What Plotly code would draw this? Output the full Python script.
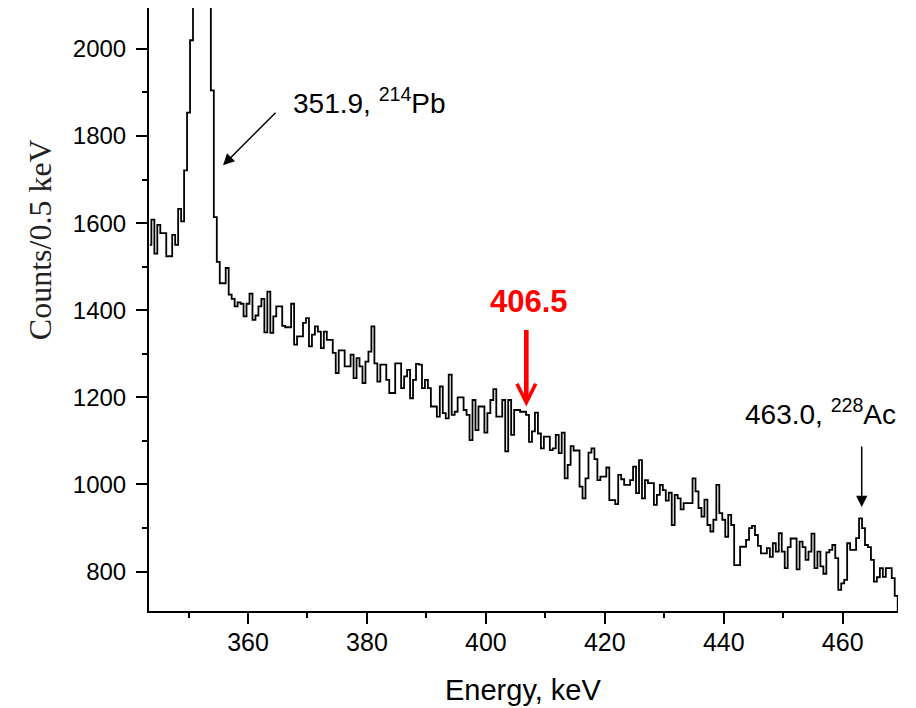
import plotly.graph_objects as go

# Bin centres are every 0.5 keV; each segment lists counts per 0.5 keV bin
bin_width = 0.5

seg1_start = 343.5
seg1_counts = [1550, 1608, 1530, 1596, 1577, 1577, 1524, 1524, 1573, 1550,
               1633, 1604, 1721, 1854, 2020, 2600, 3300, 3600, 3200, 2700,
               2300]

seg2_start = 354.0
seg2_counts = [1905, 1614, 1511, 1462, 1462, 1497, 1436, 1426, 1409, 1418,
               1415, 1386, 1415, 1438, 1378, 1388, 1409, 1426, 1349, 1443,
               1348, 1386, 1409, 1409, 1364, 1361, 1361, 1415, 1321, 1340,
               1340, 1371, 1382, 1317, 1344, 1363, 1351, 1313, 1351, 1332,
               1332, 1302, 1256, 1308, 1308, 1271, 1271, 1298, 1244, 1290,
               1271, 1233, 1282, 1305, 1363, 1278]

seg3_start = 382.0
seg3_counts = [1236, 1275, 1275, 1240, 1210, 1210, 1278, 1278, 1221, 1248,
               1263, 1198, 1240, 1277, 1275, 1221, 1240, 1221, 1179, 1179,
               1156, 1225, 1164, 1152, 1252, 1160, 1167, 1200, 1200, 1171,
               1160, 1102, 1194, 1125, 1179, 1179, 1119, 1164, 1194, 1219,
               1156, 1156, 1194, 1076, 1194, 1114, 1171, 1171, 1167, 1167,
               1160]

seg4_start = 407.5
seg4_counts = [1098, 1122, 1165, 1117, 1083, 1110, 1110, 1079, 1083, 1114,
               1072, 1119, 1014, 1045, 1088, 1078, 1078, 995, 968, 1014,
               1073, 1083, 1058, 1010, 1018, 1018, 1039, 964, 964, 955,
               1022, 1012, 999, 999, 1010, 1041, 980, 1056, 968, 1010,
               1003, 1003, 953, 976, 999, 987, 963, 981, 907, 976,
               968, 943, 957, 957, 957]

seg5_start = 435.0
seg5_counts = [1014, 984, 946, 926, 965, 907, 892, 919, 999, 934,
               919, 880, 930, 907, 815, 815, 857, 857, 873, 900,
               905, 884, 859, 842, 842, 854, 834, 865, 846, 888,
               846, 808, 856, 876, 876, 805, 869, 856, 827, 846,
               887, 808, 846, 812, 795, 844, 850, 861, 831, 758,
               773, 781, 865, 850, 850, 877, 922, 900, 861, 856,
               827, 777, 787, 808, 788, 808, 808, 785, 744, 600]

segments = [(seg1_start, seg1_counts), (seg2_start, seg2_counts),
            (seg3_start, seg3_counts), (seg4_start, seg4_counts),
            (seg5_start, seg5_counts)]

energy = []
counts = []
for start, vals in segments:
    for i, v in enumerate(vals):
        energy.append(start + i * bin_width)
        counts.append(v)

x_ticks = [360, 380, 400, 420, 440, 460]
y_ticks = [800, 1000, 1200, 1400, 1600, 1800, 2000]

fig = go.Figure()
fig.add_trace(go.Scatter(
    x=energy, y=counts, mode="lines", line_shape="hvh",
    line=dict(color="black", width=1.8), hoverinfo="x+y", showlegend=False))

sans = "Liberation Sans, Arial, sans-serif"
tick_font = dict(family=sans, size=25, color="black")

fig.update_layout(
    width=916, height=708,
    margin=dict(l=149, r=18, t=8, b=97),
    paper_bgcolor="white", plot_bgcolor="white",
    showlegend=False,
    xaxis=dict(range=[343.35, 469.3], showgrid=False, zeroline=False,
               showline=True, linecolor="black", linewidth=2, mirror=False,
               ticks="outside", ticklen=11, tickwidth=1.5, tickcolor="black",
               tickvals=x_ticks, ticktext=[str(v) for v in x_ticks],
               tickfont=tick_font, ticklabelstandoff=-3,
               minor=dict(dtick=10, tick0=350, ticks="outside", ticklen=5,
                          tickwidth=1.5, tickcolor="black", showgrid=False)),
    yaxis=dict(range=[709.5, 2094], showgrid=False, zeroline=False,
               showline=True, linecolor="black", linewidth=2, mirror=False,
               ticks="outside", ticklen=11, tickwidth=1.5, tickcolor="black",
               tickvals=y_ticks, ticktext=[str(v) for v in y_ticks],
               tickfont=dict(family=sans, size=24, color="black"),
               ticklabelstandoff=5,
               minor=dict(dtick=100, tick0=900, ticks="outside", ticklen=5,
                          tickwidth=1.5, tickcolor="black", showgrid=False)),
)

ann_font = dict(family=sans, size=28, color="black")

# axis titles
fig.add_annotation(text="Energy, keV", xref="paper", yref="paper",
                   x=0.4993, y=-0.131, showarrow=False, xanchor="center", yanchor="middle",
                   font=dict(family=sans, size=29, color="black"))
fig.add_annotation(text="Counts/0.5 keV", xref="paper", yref="paper",
                   x=-0.1455, y=0.615, showarrow=False, textangle=-90,
                   xanchor="center", yanchor="middle",
                   font=dict(family="Liberation Serif, Times New Roman, serif", size=32, color="#222222"))

# peak labels
fig.add_annotation(text="351.9, <sup>214</sup>Pb", xref="paper", yref="paper",
                   x=0.2947, y=0.8458, showarrow=False, xanchor="center", yanchor="middle",
                   font=ann_font)
fig.add_annotation(text="463.0, <sup>228</sup>Ac", xref="paper", yref="paper",
                   x=0.897, y=0.330, showarrow=False, xanchor="center", yanchor="middle",
                   font=ann_font)
fig.add_annotation(text="<b>406.5</b>", xref="paper", yref="paper",
                   x=0.507, y=0.514, showarrow=False, xanchor="center", yanchor="middle",
                   font=dict(family=sans, size=31, color="#ff0000"))

# arrows
fig.add_annotation(text="", x=355.8, y=1733, xref="x", yref="y",
                   showarrow=True, ax=54, ay=-54, arrowhead=2, arrowsize=1.5,
                   arrowwidth=1.5, arrowcolor="black")
fig.add_annotation(text="", x=406.8, y=1179, xref="x", yref="y",
                   showarrow=True, ax=0, ay=-78, arrowhead=5, arrowsize=0.8,
                   arrowwidth=4.6, arrowcolor="#ff0000")
fig.add_annotation(text="", x=463.2, y=948, xref="x", yref="y",
                   showarrow=True, ax=0, ay=-62, arrowhead=2, arrowsize=1.5,
                   arrowwidth=1.5, arrowcolor="black")

fig.write_html("out.html", config={"displayModeBar": False},
               post_script="document.body.style.margin='0';")
